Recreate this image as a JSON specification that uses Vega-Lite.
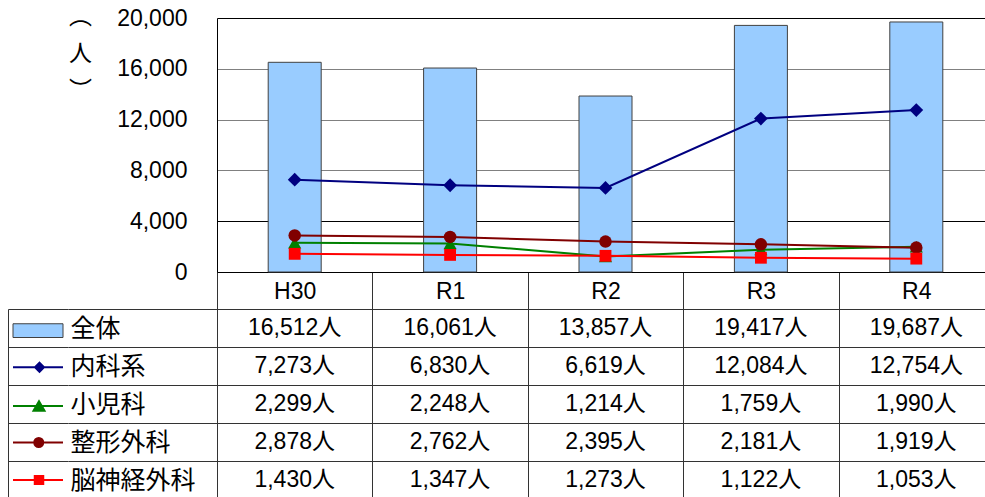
{
  "$schema": "https://vega.github.io/schema/vega-lite/v6.json",
  "background": "white",
  "padding": {"left": 8, "top": 5, "right": 0, "bottom": 0},
  "config": {
    "view": {"stroke": null},
    "axis": {"labelFont": "Liberation Sans, Noto Sans CJK JP", "labelColor": "black", "titleColor": "black"},
    "text": {"font": "Liberation Sans, Noto Sans CJK JP"}
  },
  "datasets": {
    "d": [
      {"year": "H30", "series": "全体", "value": 16512},
      {"year": "R1", "series": "全体", "value": 16061},
      {"year": "R2", "series": "全体", "value": 13857},
      {"year": "R3", "series": "全体", "value": 19417},
      {"year": "R4", "series": "全体", "value": 19687},
      {"year": "H30", "series": "内科系", "value": 7273},
      {"year": "R1", "series": "内科系", "value": 6830},
      {"year": "R2", "series": "内科系", "value": 6619},
      {"year": "R3", "series": "内科系", "value": 12084},
      {"year": "R4", "series": "内科系", "value": 12754},
      {"year": "H30", "series": "小児科", "value": 2299},
      {"year": "R1", "series": "小児科", "value": 2248},
      {"year": "R2", "series": "小児科", "value": 1214},
      {"year": "R3", "series": "小児科", "value": 1759},
      {"year": "R4", "series": "小児科", "value": 1990},
      {"year": "H30", "series": "整形外科", "value": 2878},
      {"year": "R1", "series": "整形外科", "value": 2762},
      {"year": "R2", "series": "整形外科", "value": 2395},
      {"year": "R3", "series": "整形外科", "value": 2181},
      {"year": "R4", "series": "整形外科", "value": 1919},
      {"year": "H30", "series": "脳神経外科", "value": 1430},
      {"year": "R1", "series": "脳神経外科", "value": 1347},
      {"year": "R2", "series": "脳神経外科", "value": 1273},
      {"year": "R3", "series": "脳神経外科", "value": 1122},
      {"year": "R4", "series": "脳神経外科", "value": 1053}
    ]
  },
  "bounds": "flush",
  "align": "each",
  "columns": 3,
  "spacing": {"row": 37, "column": 0},
  "resolve": {"scale": {"x": "independent", "y": "independent", "color": "independent", "shape": "independent", "fill": "independent", "stroke": "independent", "size": "independent"}},
  "concat": [
    {
      "width": 60,
      "height": 254,
      "data": {"values": [{}]},
      "mark": {"type": "text", "text": ""},
      "encoding": {}
    },
    {
      "width": 149,
      "height": 254,
      "data": {"values": [{}]},
      "mark": {"type": "text", "text": ""},
      "encoding": {}
    },
    {
      "width": 777,
      "height": 254,
      "data": {"name": "d"},
      "encoding": {
        "x": {
          "field": "year", "type": "nominal", "sort": null,
          "scale": {"domain": ["H30", "R1", "R2", "R3", "R4"], "paddingInner": 0, "paddingOuter": 0},
          "axis": {
            "orient": "bottom", "title": null, "domainColor": "black", "tickBand": "extent",
            "tickSize": 37, "tickColor": "#333333", "labelFontSize": 23, "labelBaseline": "alphabetic",
            "labelPadding": -11, "labelAngle": 0, "grid": false
          }
        }
      },
      "layer": [
        {
          "transform": [{"filter": "datum.series == '全体'"}],
          "mark": {"type": "bar", "size": 53, "fill": "#99CCFF", "stroke": "#404040", "strokeWidth": 1},
          "encoding": {
            "y": {
              "field": "value", "type": "quantitative",
              "scale": {"domain": [0, 20000], "nice": false},
              "axis": {
                "values": [0, 4000, 8000, 12000, 16000, 20000], "format": ",d", "grid": true,
                "gridColor": {"condition": {"test": "datum.value == 0 || datum.value == 4000 || datum.value == 20000", "value": "black"}, "value": "#808080"},
                "ticks": false, "tickSize": 0, "labelPadding": 30, "labelFontSize": 23, "domainColor": "black",
                "title": ["︵", "人", "︶"], "titleAngle": 0, "titleX": -137, "titleY": -13,
                "titleAlign": "center", "titleBaseline": "top", "titleFontSize": 23, "titleLineHeight": 37,
                "titleFontWeight": "normal", "titleFont": "Noto Sans CJK JP"
              }
            }
          }
        },
        {
          "transform": [{"filter": "datum.series != '全体'"}],
          "mark": {"type": "line", "strokeWidth": 2},
          "encoding": {
            "y": {"field": "value", "type": "quantitative"},
            "color": {
              "field": "series", "type": "nominal",
              "scale": {"domain": ["内科系", "小児科", "整形外科", "脳神経外科"], "range": ["#000080", "#008000", "#800000", "#FF0000"]},
              "legend": null
            }
          }
        },
        {
          "transform": [{"filter": "datum.series != '全体'"}],
          "mark": {"type": "point", "filled": true, "opacity": 1},
          "encoding": {
            "y": {"field": "value", "type": "quantitative"},
            "color": {
              "field": "series", "type": "nominal",
              "scale": {"domain": ["内科系", "小児科", "整形外科", "脳神経外科"], "range": ["#000080", "#008000", "#800000", "#FF0000"]},
              "legend": null
            },
            "shape": {
              "field": "series", "type": "nominal",
              "scale": {"domain": ["内科系", "小児科", "整形外科", "脳神経外科"], "range": ["diamond", "triangle-up", "circle", "square"]},
              "legend": null
            },
            "size": {
              "field": "series", "type": "ordinal",
              "scale": {"domain": ["内科系", "小児科", "整形外科", "脳神経外科"], "range": [190, 140, 110, 140]},
              "legend": null
            }
          }
        }
      ]
    },
    {
      "width": 60,
      "height": 190,
      "data": {"name": "d"},
      "transform": [{"filter": "datum.year == 'H30'"}],
      "mark": {"type": "point", "filled": true, "opacity": 1, "size": 2500},
      "encoding": {
        "y": {
          "field": "series", "type": "nominal", "sort": null,
          "scale": {"domain": ["全体", "内科系", "小児科", "整形外科", "脳神経外科"], "paddingInner": 0, "paddingOuter": 0},
          "axis": {"orient": "left", "labels": false, "ticks": false, "tickSize": 0, "title": null, "grid": true, "tickBand": "extent", "gridColor": "#333333", "domainColor": "#333333"}
        },
        "shape": {
          "field": "series", "type": "nominal",
          "scale": {
            "domain": ["全体", "内科系", "小児科", "整形外科", "脳神経外科"],
            "range": [
              "M-1,-0.17H1V0.38H-1Z",
              "M-1,0.05H1M0.06,-0.13L0.24,0.05L0.06,0.23L-0.12,0.05Z",
              "M-1,0.08H1M-0.18,0.27L0.04,-0.11L0.26,0.27Z",
              "M-1,0.02H1M0.21,0.02A0.18,0.18 0 1,1 -0.15,0.02A0.18,0.18 0 1,1 0.21,0.02Z",
              "M-1,0H1M-0.13,-0.16H0.21V0.16H-0.13Z"
            ]
          },
          "legend": null
        },
        "fill": {
          "field": "series", "type": "nominal",
          "scale": {"domain": ["全体", "内科系", "小児科", "整形外科", "脳神経外科"], "range": ["#99CCFF", "#000080", "#008000", "#800000", "#FF0000"]},
          "legend": null
        },
        "stroke": {
          "field": "series", "type": "nominal",
          "scale": {"domain": ["全体", "内科系", "小児科", "整形外科", "脳神経外科"], "range": ["#404040", "#000080", "#008000", "#800000", "#FF0000"]},
          "legend": null
        },
        "strokeWidth": {"condition": {"test": "datum.series == '全体'", "value": 1}, "value": 2}
      }
    },
    {
      "width": 149,
      "height": 190,
      "data": {"name": "d"},
      "transform": [{"filter": "datum.year == 'H30'"}],
      "mark": {"type": "text", "text": ""},
      "encoding": {
        "y": {
          "field": "series", "type": "nominal", "sort": null,
          "scale": {"domain": ["全体", "内科系", "小児科", "整形外科", "脳神経外科"], "paddingInner": 0, "paddingOuter": 0},
          "axis": {
            "orient": "left", "labelAlign": "left", "labelBaseline": "middle", "labelPadding": -2, "ticks": false, "tickSize": 0,
            "domain": false, "grid": true, "tickBand": "extent", "gridColor": "#333333", "labelFontSize": 25,
            "labelFont": "Noto Sans CJK JP", "title": null
          }
        }
      }
    },
    {
      "width": 777,
      "height": 190,
      "data": {"name": "d"},
      "transform": [{"calculate": "format(datum.value, ',') + '人'", "as": "label"}],
      "mark": {"type": "text", "fontSize": 23, "color": "black", "align": "center", "baseline": "middle"},
      "encoding": {
        "x": {
          "field": "year", "type": "nominal", "sort": null,
          "scale": {"domain": ["H30", "R1", "R2", "R3", "R4"], "paddingInner": 0, "paddingOuter": 0},
          "axis": {"orient": "top", "labels": false, "ticks": false, "domain": false, "grid": true, "tickBand": "extent", "gridColor": "#333333", "title": null}
        },
        "y": {
          "field": "series", "type": "nominal", "sort": null,
          "scale": {"domain": ["全体", "内科系", "小児科", "整形外科", "脳神経外科"], "paddingInner": 0, "paddingOuter": 0},
          "axis": {"orient": "left", "labels": false, "ticks": false, "tickSize": 0, "domain": true, "domainColor": "#333333", "grid": true, "tickBand": "extent", "gridColor": "#333333", "title": null}
        },
        "text": {"field": "label", "type": "nominal"}
      }
    }
  ]
}
